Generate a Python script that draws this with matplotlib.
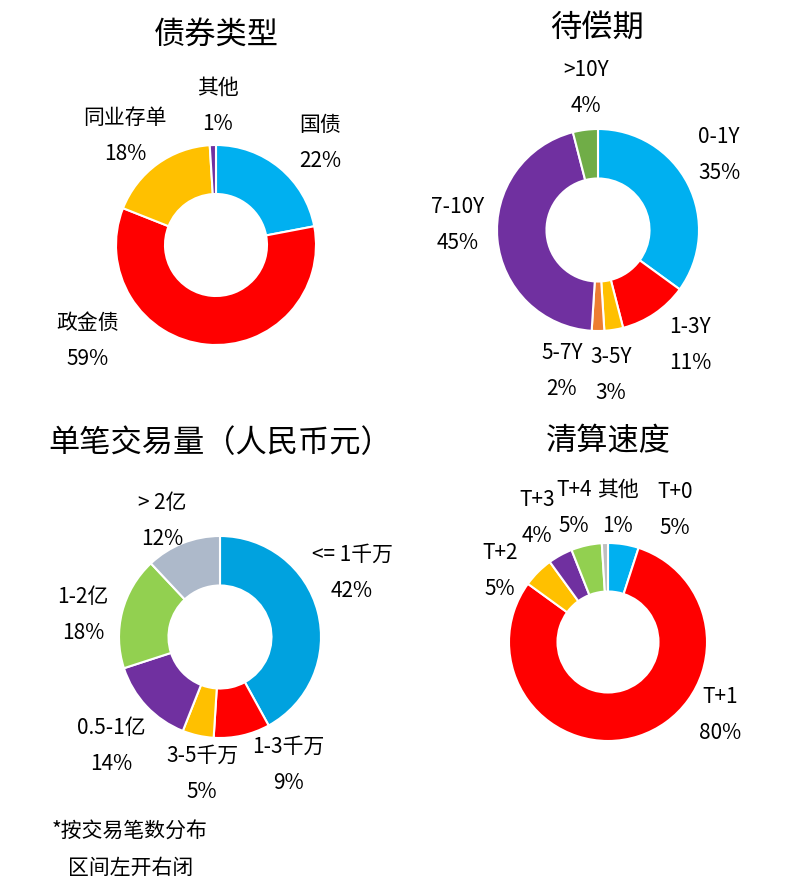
import matplotlib.pyplot as plt

plt.rcParams['font.family'] = ['Noto Sans CJK SC', 'DejaVu Sans']

W, H = 801, 894

# --- data ---
bond_labels = ['国债', '政金债', '同业存单', '其他']
bond_values = [22, 59, 18, 1]

mat_labels = ['0-1Y', '1-3Y', '3-5Y', '5-7Y', '7-10Y', '>10Y']
mat_values = [35, 11, 3, 2, 45, 4]

size_labels = ['<= 1千万', '1-3千万', '3-5千万', '0.5-1亿', '1-2亿', '> 2亿']
size_values = [42, 9, 5, 14, 18, 12]

clr_labels = ['T+0', 'T+1', 'T+2', 'T+3', 'T+4', '其他']
clr_values = [5, 80, 5, 4, 5, 1]

# --- styles / layout ---
BLUE, RED, GOLD, PURPLE = '#00B0F0', '#FF0000', '#FFC000', '#7030A0'
charts = [
    dict(title='债券类型', title_xy=(216, 35), center=(216, 245), r=100,
         labels=bond_labels, values=bond_values,
         colors=[BLUE, RED, GOLD, PURPLE],
         pos=[(320, 125), (88, 323), (125, 118), (218, 88)]),
    dict(title='待偿期', title_xy=(597, 28), center=(598, 230), r=101,
         labels=mat_labels, values=mat_values,
         colors=[BLUE, RED, GOLD, '#ED7D31', PURPLE, '#70AD47'],
         pos=[(719, 137), (690, 327), (611, 357), (562, 353), (458, 207),
              (586, 70)]),
    dict(title='单笔交易量（人民币元）', title_xy=(220, 443), center=(220, 637),
         r=101, labels=size_labels, values=size_values,
         colors=['#00A2DF', RED, GOLD, PURPLE, '#92D050', '#ADB9CA'],
         pos=[(352, 555), (288, 747), (202, 756), (111, 728), (83, 597),
              (162, 503)]),
    dict(title='清算速度', title_xy=(608, 441), center=(608, 642), r=99,
         labels=clr_labels, values=clr_values,
         colors=[BLUE, RED, GOLD, PURPLE, '#92D050', '#BFBFBF'],
         pos=[(675, 492), (720, 697), (500, 553), (537, 500), (574, 490),
              (618, 490)]),
]

fig = plt.figure(figsize=(W / 100, H / 100), dpi=100)
ax = fig.add_axes([0, 0, 1, 1])

for c in charts:
    cx, cy = c['center']
    ax.pie(c['values'], colors=c['colors'], startangle=90, counterclock=False,
           center=(cx, H - cy), radius=c['r'],
           wedgeprops=dict(width=c['r'] * 0.49, edgecolor='white',
                           linewidth=1.5))
    tx, ty = c['title_xy']
    ax.text(tx, H - ty, c['title'], fontsize=22.5, ha='center', va='center')
    for lab, val, (lx, ly) in zip(c['labels'], c['values'], c['pos']):
        ax.text(lx, H - ly, lab, fontsize=15, ha='center', va='center')
        ax.text(lx, H - ly - 36, f'{val}%', fontsize=15, ha='center',
                va='center')

ax.text(52, H - 832, '*按交易笔数分布', fontsize=15, ha='left', va='center')
ax.text(68, H - 868, '区间左开右闭', fontsize=15, ha='left', va='center')

ax.set_xlim(0, W)
ax.set_ylim(0, H)
ax.set_aspect('equal')
ax.axis('off')

fig.savefig('out.png', dpi=100, facecolor='white')
